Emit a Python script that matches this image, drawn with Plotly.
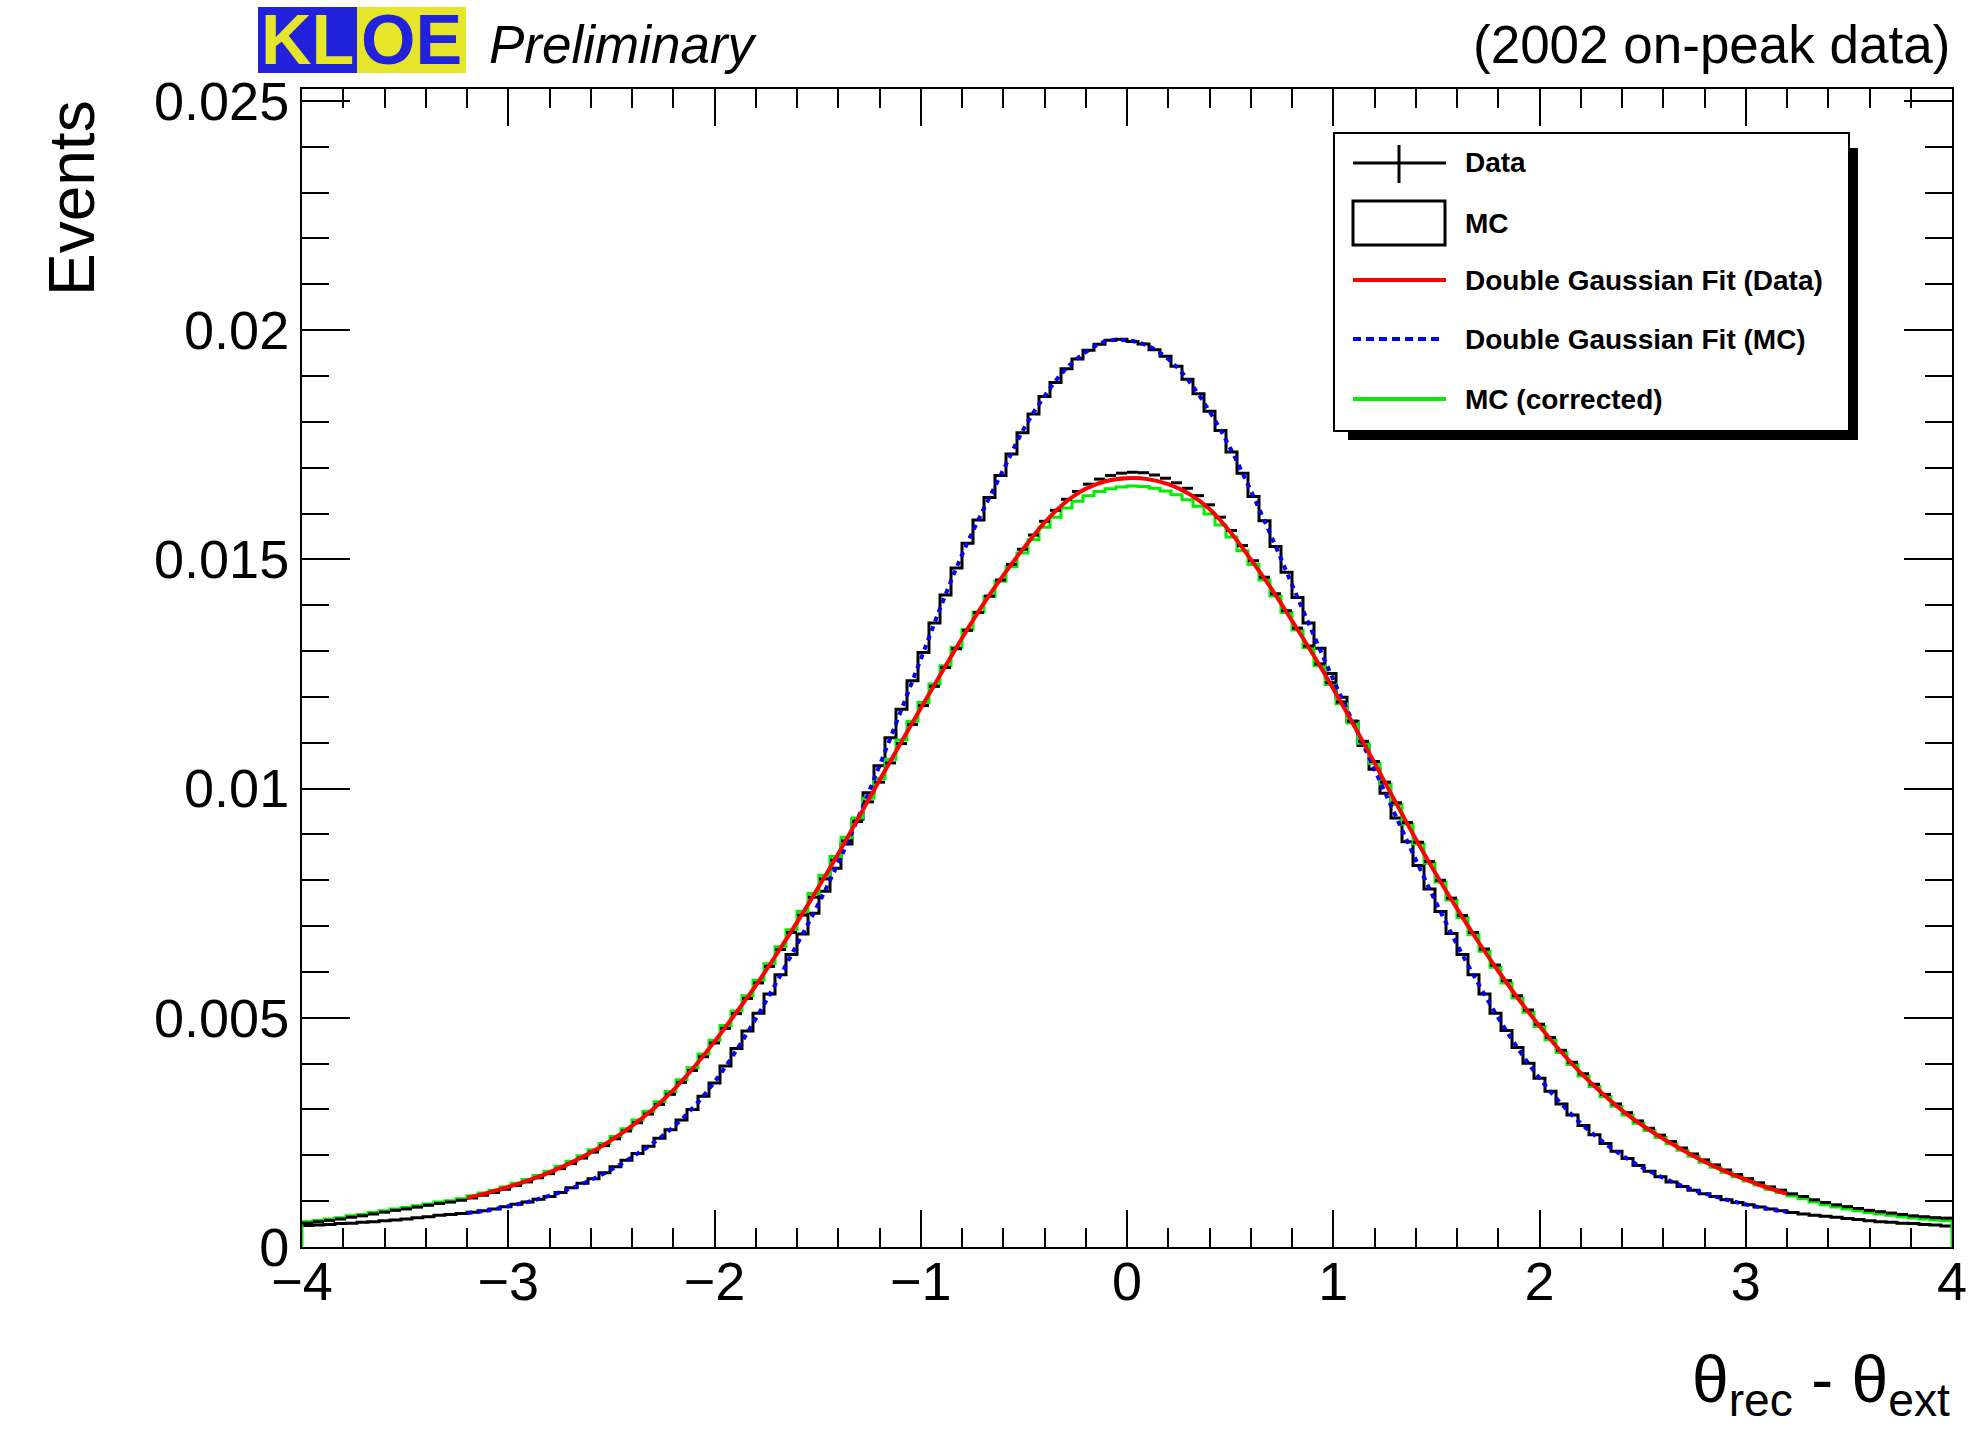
import plotly.graph_objects as go

# histogram binning (150 bins between -4 and 4)
N_BINS = 150
X_LO, X_HI = -4.0, 4.0
SCALE = 1e-5  # all values below are in units of 1e-5

# Data (black points, bin-width horizontal bars)
data_hist = [
    52, 55, 58, 61, 65, 68, 72, 76, 80, 83, 87, 91, 95, 98, 102,
    107, 113, 119, 126, 134, 142, 151, 160, 171, 182, 194, 207, 221, 236, 253,
    271, 290, 311, 333, 359, 385, 415, 445, 477, 509, 542, 576, 612, 649, 686,
    724, 763, 803, 844, 886, 928, 971, 1014, 1056, 1098, 1140, 1181, 1223, 1264, 1305,
    1345, 1384, 1420, 1455, 1489, 1522, 1553, 1583, 1607, 1631, 1648, 1664, 1675, 1683, 1688,
    1690, 1689, 1684, 1677, 1667, 1655, 1639, 1619, 1592, 1563, 1530, 1497, 1461, 1425, 1388,
    1350, 1311, 1272, 1231, 1189, 1147, 1103, 1059, 1014, 969, 926, 883, 841, 800, 761,
    723, 686, 650, 615, 581, 548, 517, 486, 457, 429, 403, 378, 355, 333, 312,
    293, 275, 259, 244, 230, 216, 203, 190, 179, 168, 158, 149, 140, 131, 124,
    116, 110, 103, 97, 92, 88, 84, 80, 77, 74, 71, 68, 66, 64, 63,
]

# MC (black histogram)
mc_hist = [
    47, 48, 49, 51, 52, 54, 55, 57, 59, 61, 64, 66, 69, 71, 73,
    76, 79, 83, 88, 93, 98, 104, 110, 119, 129, 139, 149, 162, 175, 189,
    204, 220, 237, 256, 277, 300, 329, 358, 395, 433, 471, 510, 552, 594, 638,
    683, 728, 776, 826, 879, 933, 991, 1050, 1111, 1173, 1235, 1297, 1361, 1422, 1481,
    1535, 1586, 1635, 1683, 1730, 1776, 1817, 1855, 1886, 1916, 1937, 1956, 1969, 1978, 1980,
    1975, 1970, 1957, 1943, 1921, 1893, 1861, 1823, 1781, 1734, 1688, 1637, 1584, 1528, 1472,
    1417, 1361, 1306, 1251, 1199, 1147, 1094, 1042, 990, 936, 884, 832, 781, 732, 684,
    638, 594, 552, 510, 472, 435, 401, 368, 340, 312, 288, 265, 245, 226, 209,
    193, 178, 165, 153, 142, 132, 124, 116, 110, 103, 97, 92, 87, 83, 79,
    75, 72, 69, 67, 65, 62, 60, 57, 55, 54, 52, 51, 49, 48, 46,
]

# MC (corrected) (green histogram)
mc_corr_hist = [
    55, 58, 61, 64, 68, 71, 75, 79, 83, 86, 90, 94, 98, 101, 105,
    112, 118, 124, 131, 139, 147, 156, 165, 176, 187, 199, 212, 226, 241, 258,
    277, 296, 317, 339, 365, 391, 421, 451, 483, 515, 548, 582, 618, 655, 692,
    732, 771, 811, 852, 894, 936, 979, 1022, 1064, 1106, 1147, 1188, 1228, 1268, 1308,
    1347, 1385, 1419, 1452, 1484, 1514, 1543, 1570, 1592, 1612, 1627, 1639, 1648, 1654, 1658,
    1660, 1659, 1655, 1649, 1641, 1630, 1616, 1599, 1575, 1549, 1519, 1489, 1455, 1420, 1384,
    1346, 1307, 1268, 1227, 1185, 1143, 1099, 1055, 1010, 965, 922, 879, 837, 796, 757,
    718, 681, 645, 610, 576, 543, 512, 481, 452, 424, 398, 373, 350, 328, 307,
    288, 270, 254, 239, 225, 211, 198, 185, 174, 163, 153, 144, 135, 126, 119,
    111, 105, 98, 92, 87, 83, 79, 75, 72, 69, 66, 63, 61, 59, 58,
]

# double gaussian fits, sampled every 0.1 from -3.2 to 3.2
fit_x = [round(-3.2 + 0.1 * i, 1) for i in range(65)]
fit_data = [
    107, 118, 131, 146, 163, 183, 206, 233, 264, 300, 342, 392, 448, 508, 570, 638,
    708, 782, 858, 938, 1018, 1097, 1175, 1252, 1328, 1400, 1465, 1525, 1580, 1624, 1654, 1671,
    1677, 1675, 1664, 1643, 1610, 1560, 1500, 1436, 1366, 1294, 1218, 1138, 1056, 972, 890, 812,
    738, 668, 602, 540, 482, 428, 380, 337, 298, 265, 236, 210, 186, 165, 147, 130, 116,
]
fit_mc = [
    74, 80, 89, 99, 112, 127, 146, 169, 196, 226, 262, 306, 360, 425, 498, 577,
    660, 745, 838, 940, 1050, 1165, 1282, 1400, 1510, 1605, 1695, 1785, 1856, 1914, 1952, 1976,
    1978, 1966, 1937, 1889, 1823, 1743, 1650, 1550, 1445, 1340, 1238, 1140, 1042, 943, 845, 750,
    660, 577, 500, 430, 368, 315, 270, 232, 200, 173, 151, 132, 117, 104, 93, 84, 77,
]

W, H = 1977, 1433
L, R, T, B = 302, 25, 89, 186
FONT = "Liberation Sans, Arial, Helvetica, sans-serif"


def px(x):
    return (x - L) / (W - L - R)


def py(y):
    return (H - B - y) / (H - T - B)


edges = [X_LO + (X_HI - X_LO) * i / N_BINS for i in range(N_BINS + 1)]

fig = go.Figure()

# MC histogram
mc_y = [v * SCALE for v in mc_hist]
fig.add_trace(go.Scatter(
    x=edges, y=mc_y + [mc_y[-1]], mode="lines",
    line=dict(shape="hv", color="black", width=3), name="MC"))

# MC corrected
cor_y = [v * SCALE for v in mc_corr_hist]
fig.add_trace(go.Scatter(
    x=[X_LO] + edges + [X_HI], y=[0] + cor_y + [cor_y[-1], 0], mode="lines",
    line=dict(shape="hv", color="#00ee00", width=3), name="MC (corrected)"))

# Data as bin-wide bars
seg_x, seg_y = [], []
for i, v in enumerate(data_hist):
    seg_x += [edges[i], edges[i + 1], None]
    seg_y += [v * SCALE, v * SCALE, None]
fig.add_trace(go.Scatter(x=seg_x, y=seg_y, mode="lines",
                         line=dict(color="black", width=3), name="Data"))

fig.add_trace(go.Scatter(
    x=fit_x, y=[v * SCALE for v in fit_mc], mode="lines",
    line=dict(color="#0000ee", width=4, dash="5px,5px", shape="spline"),
    name="Double Gaussian Fit (MC)"))
fig.add_trace(go.Scatter(
    x=fit_x, y=[v * SCALE for v in fit_data], mode="lines",
    line=dict(color="#ff0000", width=4, shape="spline"),
    name="Double Gaussian Fit (Data)"))

axis_common = dict(
    showline=True, linecolor="black", linewidth=2, mirror="ticks",
    ticks="inside", tickcolor="black", tickwidth=2,
    showgrid=False, zeroline=False, automargin=False,
    tickfont=dict(family=FONT, size=54, color="black"),
)
fig.update_xaxes(range=[X_LO, X_HI], tick0=0, dtick=1, ticklen=37,
                 ticklabelstandoff=-14,
                 minor=dict(ticks="inside", dtick=0.2, ticklen=19,
                            tickwidth=2, tickcolor="black"),
                 **axis_common)
fig.update_yaxes(range=[0, 0.02526], tick0=0, dtick=0.005, ticklen=48,
                 minor=dict(ticks="inside", dtick=0.001, ticklen=27,
                            tickwidth=2, tickcolor="black"),
                 **axis_common)

shapes = [
    # KLOE logo
    dict(type="rect", xref="paper", yref="paper", x0=px(258), x1=px(357), y0=py(73), y1=py(7),
         fillcolor="#2222dd", line_width=0, layer="above"),
    dict(type="rect", xref="paper", yref="paper", x0=px(357), x1=px(466), y0=py(73), y1=py(7),
         fillcolor="#e5e52a", line_width=0, layer="above"),
    # legend box + shadow
    dict(type="rect", xref="paper", yref="paper", x0=px(1348), x1=px(1858), y0=py(440), y1=py(148),
         fillcolor="black", line_width=0),
    dict(type="rect", xref="paper", yref="paper", x0=px(1334), x1=px(1849), y0=py(431), y1=py(133),
         fillcolor="white", line=dict(color="black", width=2)),
    # legend symbols
    dict(type="line", xref="paper", yref="paper", x0=px(1353), x1=px(1446), y0=py(163), y1=py(163),
         line=dict(color="black", width=3)),
    dict(type="line", xref="paper", yref="paper", x0=px(1399), x1=px(1399), y0=py(145), y1=py(183),
         line=dict(color="black", width=3)),
    dict(type="rect", xref="paper", yref="paper", x0=px(1353), x1=px(1445), y0=py(245), y1=py(201),
         line=dict(color="black", width=3)),
    dict(type="line", xref="paper", yref="paper", x0=px(1353), x1=px(1446), y0=py(280), y1=py(280),
         line=dict(color="#ff0000", width=4)),
    dict(type="line", xref="paper", yref="paper", x0=px(1353), x1=px(1440), y0=py(339), y1=py(339),
         line=dict(color="#0000ee", width=4, dash="8px,5px")),
    dict(type="line", xref="paper", yref="paper", x0=px(1353), x1=px(1446), y0=py(399), y1=py(399),
         line=dict(color="#00ee00", width=4)),
]

legend_labels = ["Data", "MC", "Double Gaussian Fit (Data)", "Double Gaussian Fit (MC)", "MC (corrected)"]
legend_rows = [163, 223, 280, 339, 399]

annotations = [
    dict(text="<b>KL</b>", x=px(307.5), y=py(40), xanchor="center", yanchor="middle",
         font=dict(family=FONT, size=70, color="#e5e52a")),
    dict(text="<b>OE</b>", x=px(411.5), y=py(40), xanchor="center", yanchor="middle",
         font=dict(family=FONT, size=70, color="#2222dd")),
    dict(text="<i>Preliminary</i>", x=px(487), y=py(44), xanchor="left", yanchor="middle",
         font=dict(family=FONT, size=53, color="black")),
    dict(text="(2002 on-peak data)", x=1.0, y=py(44), xanchor="right", yanchor="middle",
         font=dict(family=FONT, size=53, color="black")),
    dict(text="Events", x=px(72), y=py(198), textangle=-90, xanchor="center", yanchor="middle",
         font=dict(family=FONT, size=64, color="black")),
    dict(text="θ<sub>rec</sub> - θ<sub>ext</sub>", x=1.0, y=py(1384), xanchor="right", yanchor="middle",
         font=dict(family=FONT, size=66, color="black")),
]
for lab, row in zip(legend_labels, legend_rows):
    annotations.append(dict(text="<b>" + lab + "</b>", x=px(1463), y=py(row),
                            xanchor="left", yanchor="middle",
                            font=dict(family=FONT, size=28, color="black")))
for a in annotations:
    a.update(xref="paper", yref="paper", showarrow=False)

fig.update_layout(
    width=W, height=H,
    margin=dict(l=L, r=R, t=T, b=B),
    paper_bgcolor="white", plot_bgcolor="white",
    showlegend=False,
    shapes=shapes, annotations=annotations,
)

fig.write_html("out.html", config={"displayModeBar": False},
               post_script="document.body.style.margin = '0px';")
